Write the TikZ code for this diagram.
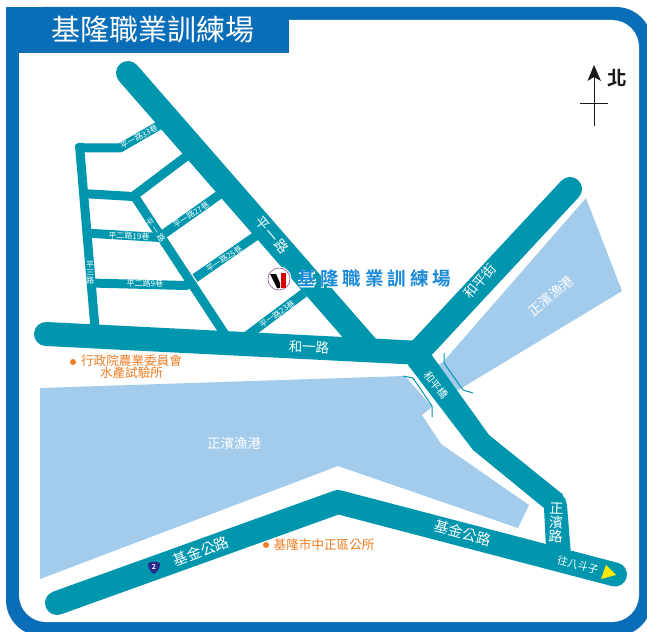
\documentclass[tikz,border=0pt]{standalone}
\usepackage{fontspec}
\setmainfont{Noto Sans CJK TC}
\newfontfamily\halofont[FakeBold=3]{Noto Sans CJK TC Bold}
\newfontfamily\bluefont{Noto Sans CJK TC Bold}
\definecolor{frameblue}{HTML}{0A6DB7}
\definecolor{road}{HTML}{0097AE}
\definecolor{water}{HTML}{A2CBEC}
\definecolor{orangetxt}{HTML}{EE7D22}
\definecolor{hubblue}{HTML}{1A8AD8}
\definecolor{shield}{HTML}{2A2A8C}
\newcommand{\fs}[1]{\fontsize{#1}{#1}\selectfont}
\newcommand{\hubtext}{基\hspace{4pt}隆\hspace{4pt}職\hspace{4pt}業\hspace{4pt}訓\hspace{4pt}練\hspace{4pt}場}
\tikzset{
  mainroad/.style={draw=road,line width=24pt,line cap=round,line join=miter},
  sideroad/.style={draw=road,line width=9pt,line cap=butt,line join=round},
  bridge/.style={draw=road,line width=1pt},
  lab/.style={text=white,inner sep=0pt,font=\fs{#1}},
  lab/.default=13,
  place/.style={text=orangetxt,inner sep=0pt,font=\fs{12.6},align=center},
  odot/.style={fill=orangetxt,circle,inner sep=0pt,minimum size=6pt},
}
\begin{document}
\begin{tikzpicture}[x=1pt,y=-1pt]
\useasboundingbox (0,0) rectangle (647,631);
\fill[white] (0,0) rectangle (647,631);
% frame
\begin{scope}
\clip (0,0) rectangle (647,631);
\fill[frameblue,rounded corners=36pt] (6,7) rectangle (652,636);
\end{scope}
\fill[white,rounded corners=27pt] (19,20) rectangle (639,622);
\fill[frameblue] (6,7) rectangle (289,53);
\fill[frameblue] (6,53) rectangle (19,70);
% water
\fill[water] (40,388) -- (405,376) -- (432,407) -- (422,415) -- (441,444) -- (529,505) -- (518,528) -- (338,466) -- (40,579) -- cycle;
\fill[water] (586,198) -- (622,291) -- (455,392) -- (436,366) -- (443,362) -- cycle;
% side roads
\draw[sideroad] (79,148) -- (120,148) -- (165,122);
\draw[sideroad] (79.5,145) -- (95,328);
\fill[road] (75,145) -- (75,147) -- (79,152) -- (84,143) -- (78,143) -- cycle;
\draw[sideroad] (82,193.5) -- (133,196.5) -- (192,152);
\draw[sideroad] (135,197) -- (226,336);
\draw[sideroad] (85,233) -- (160,237.5);
\draw[sideroad] (163,234.5) -- (226,190);
\draw[sideroad] (195,278) -- (263,231);
\draw[sideroad] (90,283) -- (186,285.5) -- (192,283);
\draw[sideroad] (240,341) -- (304,293);
% main roads
\draw[mainroad] (128,73) -- (300,270);
\draw[mainroad,line cap=butt] (299,269) -- (368,348);
\draw[mainroad] (46,334) -- (412,352.5);
\draw[mainroad] (570,189) -- (420,350);
\fill[road] (408,365) -- (473,450) -- (544,508) -- (546,548) -- (571,555) -- (567,505) -- (565,498) to[out=-135,in=45] (561,493) -- (489,435) -- (431,354) -- (420,345) -- cycle;
\draw[mainroad,line width=24pt,line join=round] (57,603) -- (338,502) -- (615,574.5);
% bridge rails
\draw[bridge] (444,353) -- (444,363) -- (463,390) -- (473,393);
\draw[bridge] (403,376) -- (413,378) -- (432,406) -- (432,417);
% title
\node[lab=29] (title) at (152.5,29) {基隆職業訓練場};
% road labels
\node[lab=13.5,rotate=-50] (pingyi) at (272,235) {平\hspace{1.5pt}一\hspace{1.5pt}路};
\node[lab=13.5,rotate=-3] (heyi) at (309,347) {和一路};
\node[lab=13.5,rotate=50] (heping) at (480,281) {和平街};
\node[lab=10.5,rotate=-52] (bridgelab) at (436,385) {和平橋};
\node[lab=14,rotate=-2,align=center] (zhengbin) at (556,523) {\baselineskip=15pt 正\\濱\\路};
\node[lab=14.5,rotate=-15] (jijin1) at (463,533) {基金公路};
\node[lab=14.5,rotate=21] (jijin2) at (201,551) {基金公路};
\node[lab=10.5,rotate=-15] (wang) at (578,565) {往八斗子};
\node[lab=13.5] (port1) at (234,443) {正濱漁港};
\node[lab=13.5,rotate=40] (port2) at (551,296) {正濱漁港};
% lane labels
\node[lab=8,rotate=28] (l33) at (139,137) {平一路33巷};
\node[lab=8,rotate=33] (l27) at (191,215) {平一路27巷};
\node[lab=8,rotate=33] (l25) at (224,259) {平一路25巷};
\node[lab=8,rotate=35] (l23) at (277,314) {平一路23巷};
\node[lab=8,rotate=-2] (l19) at (129,236) {平二路19巷};
\node[lab=8,rotate=-1] (l9) at (145,283.5) {平二路9巷};
\node[lab=8,align=center] (s3) at (90,273) {\baselineskip=9pt 平\\三\\路};
\node[lab=8,rotate=-55] (s1) at (155.5,230) {平\hspace{2pt}一\hspace{2pt}路};
% places
\node[odot] (dot1) at (73,362) {};
\node[place,anchor=north] (inst) at (131.5,354.5) {\baselineskip=12.5pt 行政院農業委員會\\水產試驗所};
\node[odot] (dot2) at (266,545) {};
\node[place,anchor=west] (office) at (273.5,545) {基隆市中正區公所};
% shield
\fill[shield] (148,563) to[bend left=12] (154,561.5) to[bend left=12] (160,563) to[out=-90,in=30] (154,574) to[out=150,in=-90] (148,563) -- cycle;
\node[text=white,inner sep=0pt,font=\bluefont\fs{7}] (two) at (154,567) {2};
% arrowhead east
\fill[yellow!90!orange] (606,565) -- (616,575) -- (601,579) -- cycle;
% logo
\fill[white] (279,279) circle (12.5);
\draw[draw=violet!55!gray,line width=0.5pt] (279,279) circle (11);
\fill[black] (270,274) -- (276,274) -- (280,283) -- (280,288) -- (277,288) -- cycle;
\fill[red!85!black] (281,272.5) -- (286,272.5) -- (286,288) -- (281,288) -- cycle;
% hub label
\node[inner sep=0pt,text=white,font=\halofont\fs{18.5}] (hubhalo) at (374.5,279) {\hubtext};
\node[inner sep=0pt,text=hubblue,font=\bluefont\fs{18.5}] (hublabel) at (374.5,279) {\hubtext};
% north
\coordinate (ntop) at (594,72);
\coordinate (nbot) at (594,126);
\draw[black!90,line width=1pt] (ntop) -- (nbot);
\draw[black!90,line width=1pt] (580,104) -- (608,104);
\fill[black!90] (594,65) -- (601,81) -- (594,77) -- (587.5,81) -- cycle;
\node[inner sep=0pt,text=black!90,font=\bluefont\fs{19.5}] (north) at (617,78) {北};
\end{tikzpicture}
\end{document}
